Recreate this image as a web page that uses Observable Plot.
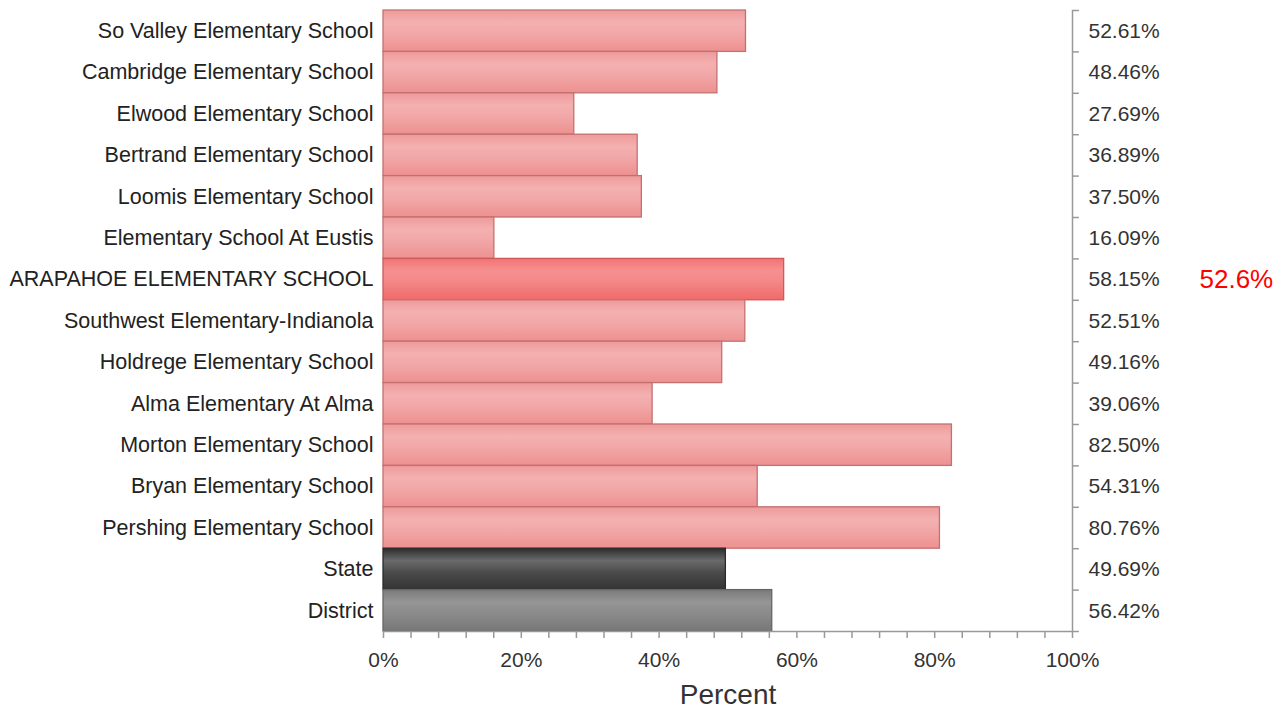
<!DOCTYPE html>
<html>
<head>
<meta charset="utf-8">
<script src="https://cdn.jsdelivr.net/npm/d3@7"></script>
<script src="https://cdn.jsdelivr.net/npm/@observablehq/plot@0.6"></script>
<style>
  html, body { margin: 0; padding: 0; background: #fff; }
  #chart svg { display: block; }
</style>
</head>
<body>
<div id="chart"></div>
<script>
// ---- data (top to bottom) ----
const schools = [
  "So Valley Elementary School",
  "Cambridge Elementary School",
  "Elwood Elementary School",
  "Bertrand Elementary School",
  "Loomis Elementary School",
  "Elementary School At Eustis",
  "ARAPAHOE ELEMENTARY SCHOOL",
  "Southwest Elementary-Indianola",
  "Holdrege Elementary School",
  "Alma Elementary At Alma",
  "Morton Elementary School",
  "Bryan Elementary School",
  "Pershing Elementary School",
  "State",
  "District"
];
const percents = [52.61, 48.46, 27.69, 36.89, 37.50, 16.09, 58.15, 52.51, 49.16, 39.06, 82.50, 54.31, 80.76, 49.69, 56.42];
const kinds = ["school","school","school","school","school","school","highlight","school","school","school","school","school","school","state","district"];
const xTicks = [0, 20, 40, 60, 80, 100];
const highlightNote = { school: "ARAPAHOE ELEMENTARY SCHOOL", text: "52.6%" };

const rows = schools.map((name, i) => ({ name, i, value: percents[i], kind: kinds[i] }));
const strokeOf = { school: "#c47070", highlight: "#cc5a5a", state: "#2a2a2a", district: "#666666" };
const hlIndex = schools.indexOf(highlightNote.school);

const FONT = "'Liberation Sans', Arial, Helvetica, sans-serif";

const plot = Plot.plot({
  width: 1283,
  height: 713,
  marginLeft: 383,
  marginRight: 211,
  marginTop: 10,
  marginBottom: 82,
  style: { fontFamily: FONT, background: "#fff", color: "#333", overflow: "visible" },
  x: { domain: [0, 100], axis: null },
  y: { domain: [0, schools.length], reverse: true, axis: null },
  color: { type: "identity" },
  marks: [
    Plot.rect(rows, {
      x1: 0, x2: "value",
      y1: d => d.i, y2: d => d.i + 1,
      fill: d => `url(#grad-${d.kind})`,
      stroke: d => strokeOf[d.kind],
      strokeWidth: 1.3
    }),
    // right vertical axis line
    Plot.ruleX([100], { stroke: "#999", strokeWidth: 1.5 }),
    // boundary ticks on right axis
    Plot.ruleY(d3.range(schools.length + 1), { x1: 100, x2: 101, stroke: "#999", strokeWidth: 1.5 }),
    // bottom axis line
    Plot.ruleY([schools.length], { x1: 0, x2: 100, stroke: "#999", strokeWidth: 1.5 }),
    // bottom axis minor/major ticks
    Plot.axisX(d3.range(0, 101, 4), {
      anchor: "bottom", tickSize: 7, tickPadding: 14,
      tickFormat: d => (xTicks.includes(d) ? d + "%" : ""),
      stroke: "#999", strokeWidth: 1.5, fill: "#333", fontSize: 21, label: null
    }),
    Plot.text(["Percent"], { frameAnchor: "bottom", dy: 72, fontSize: 28, fill: "#333" }),
    // left category labels
    Plot.text(rows, {
      x: 0, y: d => d.i + 0.5, text: "name",
      textAnchor: "end", dx: -10, fontSize: 21.5, fill: "#222"
    }),
    // right value labels
    Plot.text(rows, {
      x: 100, y: d => d.i + 0.5, text: d => d.value.toFixed(2) + "%",
      textAnchor: "start", dx: 16, fontSize: 21, fill: "#333"
    }),
    // red note
    Plot.text([highlightNote], {
      x: 100, y: () => hlIndex + 0.5, text: "text",
      textAnchor: "start", dx: 127, fontSize: 26, fill: "#ff0000"
    })
  ]
});

// gradients
const defs = d3.select(plot).insert("defs", ":first-child");
const grads = {
  school: [[0, "#ee9a9a"], [0.3, "#f4b0b0"], [0.55, "#f2a8a8"], [1, "#ee9090"]],
  highlight: [[0, "#f27474"], [0.3, "#f69090"], [0.55, "#f48888"], [1, "#f06a6a"]],
  state: [[0, "#2c2c2c"], [0.3, "#6a6a6a"], [0.6, "#4a4a4a"], [1, "#333333"]],
  district: [[0, "#7a7a7a"], [0.3, "#959595"], [0.6, "#8a8a8a"], [1, "#777777"]]
};
for (const [k, stops] of Object.entries(grads)) {
  const g = defs.append("linearGradient").attr("id", `grad-${k}`)
    .attr("x1", 0).attr("y1", 0).attr("x2", 0).attr("y2", 1);
  for (const [o, c] of stops) g.append("stop").attr("offset", o).attr("stop-color", c);
}

document.getElementById("chart").appendChild(plot);
</script>
</body>
</html>
